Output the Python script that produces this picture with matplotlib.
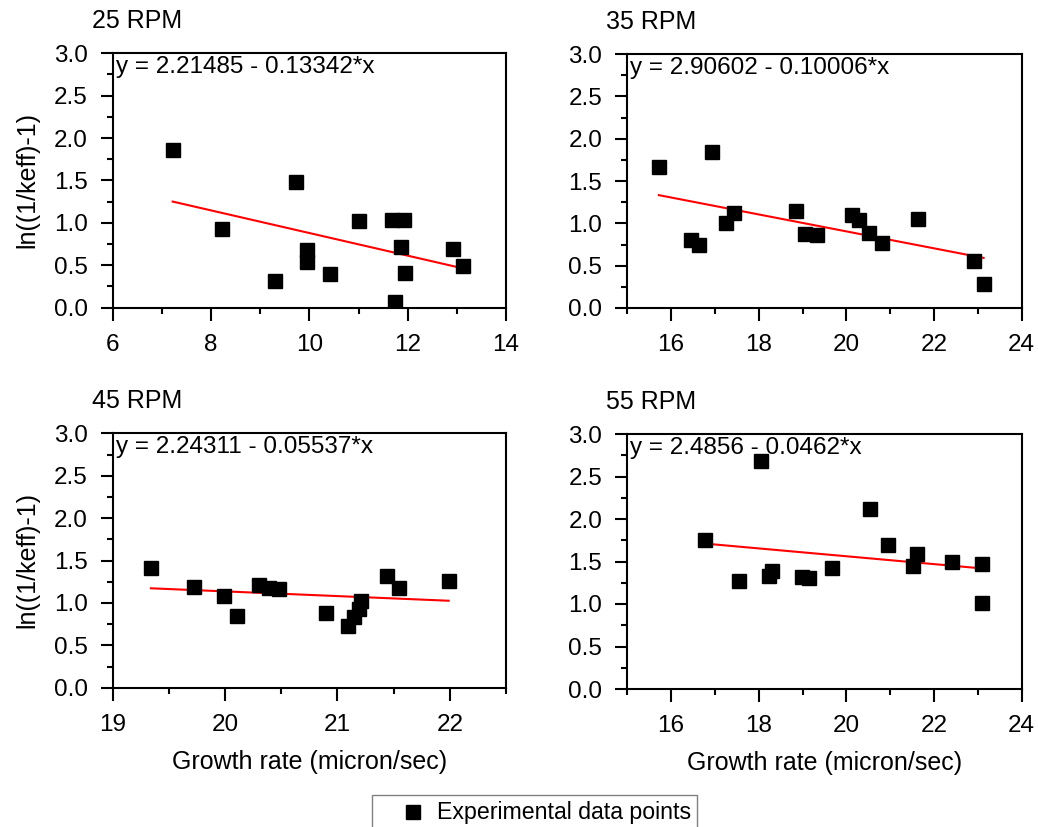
import numpy as np
import matplotlib
matplotlib.use("Agg")
import matplotlib.pyplot as plt
from matplotlib.lines import Line2D
from matplotlib.patches import Rectangle
from matplotlib.ticker import MultipleLocator

plt.rcParams['font.family'] = ['Liberation Sans', 'DejaVu Sans']

# 25 RPM
x25 = [7.22, 8.23, 9.31, 9.73, 9.95, 9.95, 10.43, 11.02, 11.68, 11.93, 11.87, 11.94, 11.75, 12.92, 13.12]
y25 = [1.86, 0.93, 0.32, 1.48, 0.68, 0.54, 0.40, 1.02, 1.03, 1.03, 0.72, 0.41, 0.07, 0.69, 0.49]
# 35 RPM
x35 = [15.72, 16.94, 16.45, 16.64, 17.25, 17.44, 18.85, 19.06, 19.33, 20.13, 20.28, 20.51, 20.81, 21.63, 22.92, 23.13]
y35 = [1.67, 1.84, 0.80, 0.75, 1.00, 1.12, 1.14, 0.87, 0.86, 1.10, 1.04, 0.89, 0.77, 1.05, 0.56, 0.28]
# 45 RPM
x45 = [19.34, 19.72, 19.99, 20.11, 20.30, 20.39, 20.48, 20.90, 21.09, 21.15, 21.19, 21.21, 21.44, 21.55, 21.99]
y45 = [1.41, 1.19, 1.08, 0.85, 1.21, 1.18, 1.16, 0.88, 0.73, 0.83, 0.93, 1.02, 1.32, 1.18, 1.26]
# 55 RPM
x55 = [16.78, 17.54, 18.05, 18.24, 18.30, 18.98, 19.14, 19.68, 20.54, 20.96, 21.53, 21.60, 22.41, 23.10, 23.10]
y55 = [1.75, 1.27, 2.68, 1.33, 1.39, 1.32, 1.31, 1.42, 2.12, 1.69, 1.45, 1.59, 1.49, 1.47, 1.01]

titles = ["25 RPM", "35 RPM", "45 RPM", "55 RPM"]
intercepts = [2.21485, 2.90602, 2.24311, 2.4856]
slopes = [0.13342, 0.10006, 0.05537, 0.0462]
eq_labels = ["y = 2.21485 - 0.13342*x", "y = 2.90602 - 0.10006*x",
             "y = 2.24311 - 0.05537*x", "y = 2.4856 - 0.0462*x"]
xlims = [(6, 14), (15, 24), (19, 22.5), (15, 24)]
xmajor = [2, 2, 1, 2]

W, H = 1038, 827
fig = plt.figure(figsize=(W / 100, H / 100), dpi=100)

# axes boxes in pixels: left, top, right, bottom
boxes = [(112.7, 53.3, 506, 307.7), (627.3, 54, 1021.7, 308),
         (112.7, 433.3, 506, 687.7), (627.3, 434, 1021.7, 689)]

data = [(x25, y25), (x35, y35), (x45, y45), (x55, y55)]

for i, ((l, t, r, b), (xs, ys)) in enumerate(zip(boxes, data)):
    ax = fig.add_axes([l / W, 1 - b / H, (r - l) / W, (b - t) / H])
    ax.plot(xs, ys, 's', color='black', ms=9.8, zorder=3)
    xf = np.array([min(xs), max(xs)])
    ax.plot(xf, intercepts[i] - slopes[i] * xf, color='red', lw=1.5, zorder=2)

    ax.set_xlim(*xlims[i])
    ax.set_ylim(0, 3.0)
    ax.xaxis.set_major_locator(MultipleLocator(xmajor[i]))
    ax.xaxis.set_minor_locator(MultipleLocator(xmajor[i] / 2))
    ax.yaxis.set_major_locator(MultipleLocator(0.5))
    ax.yaxis.set_minor_locator(MultipleLocator(0.25))
    ax.yaxis.set_major_formatter(matplotlib.ticker.FormatStrFormatter('%.1f'))
    ax.tick_params(which='both', direction='out', width=1.5, labelsize=17.5)
    ax.tick_params(axis='x', pad=10)
    ax.tick_params(axis='y', pad=9)
    ax.tick_params(which='major', length=9)
    ax.tick_params(which='minor', length=4.5)
    for s in ax.spines.values():
        s.set_linewidth(1.5)

    ax.text(0.008, 0.99, eq_labels[i], transform=ax.transAxes, fontsize=17.5,
            ha='left', va='top')
    ax.text(-0.053, 1.098, titles[i], transform=ax.transAxes, fontsize=18,
            ha='left', va='baseline')

    if i % 2 == 0:
        ax.set_ylabel("ln((1/keff)-1)", fontsize=18, labelpad=10)
    if i >= 2:
        ax.set_xlabel("Growth rate (micron/sec)", fontsize=18, labelpad=10)

# legend box at the bottom, running off the lower edge like the original
fig.add_artist(Rectangle((372 / W, -0.02), (697 - 372) / W, 0.02 + (827 - 795) / H,
                         transform=fig.transFigure, fill=False,
                         edgecolor='#808080', lw=1.0))
fig.add_artist(Line2D([413 / W], [1 - 812 / H], marker='s', color='black',
                      ls='none', ms=9.8, transform=fig.transFigure))
fig.text(437 / W, 1 - 812 / H, "Experimental data points", fontsize=16.7,
         ha='left', va='center')

fig.savefig("out.png", dpi=100)
